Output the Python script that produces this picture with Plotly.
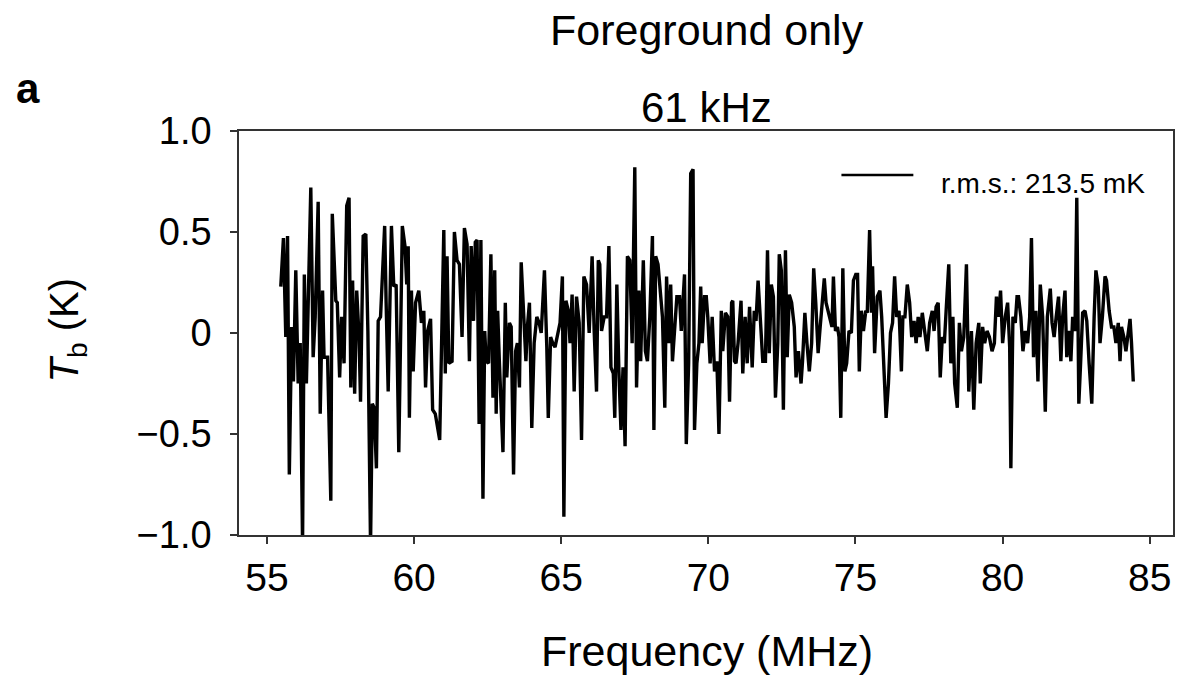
import plotly.graph_objects as go

# ---------------- data ----------------
freq_mhz = [
    55.47, 55.56, 55.64, 55.70, 55.76, 55.84, 55.90, 55.98, 56.06, 56.13, 56.21, 56.27, 56.34, 56.40,
    56.49, 56.57, 56.64, 56.74, 56.81, 56.89, 56.94, 57.06, 57.17, 57.22, 57.34, 57.39, 57.47, 57.54,
    57.62, 57.71, 57.79, 57.85, 57.91, 57.98, 58.05, 58.13, 58.18, 58.27, 58.36, 58.43, 58.52, 58.58,
    58.64, 58.72,
    58.78, 58.86, 59.00, 59.05, 59.12, 59.23, 59.31, 59.39, 59.48, 59.60, 59.69, 59.75, 59.80, 59.84,
    59.91, 59.97, 60.05, 60.16, 60.25, 60.33, 60.39, 60.46, 60.56, 60.63, 60.72, 60.87, 61.01, 61.06,
    61.12, 61.18, 61.29, 61.37, 61.46, 61.54, 61.63, 61.71, 61.80, 61.88, 61.94, 62.02, 62.08, 62.14,
    62.21, 62.27, 62.34, 62.40,
    62.45, 62.53, 62.61, 62.68, 62.74, 62.79, 62.84, 62.90, 63.02, 63.10, 63.15, 63.24, 63.30, 63.38,
    63.45, 63.51, 63.58, 63.64, 63.72, 63.80, 63.85, 63.92, 64.00, 64.08, 64.17, 64.25, 64.32, 64.43,
    64.51, 64.56, 64.64, 64.71, 64.79, 64.87, 64.96, 65.04, 65.09, 65.16, 65.24, 65.30, 65.37, 65.44,
    65.52, 65.61, 65.69, 65.77, 65.86, 65.95,
    66.05, 66.12, 66.20, 66.26, 66.31, 66.37, 66.46, 66.54, 66.62, 66.69, 66.77, 66.82, 66.89, 66.96,
    67.03, 67.10, 67.17, 67.25, 67.33, 67.41, 67.50, 67.56, 67.64, 67.70, 67.79, 67.86, 67.93, 68.01,
    68.10, 68.15, 68.21, 68.29, 68.38, 68.44, 68.52, 68.58, 68.65, 68.72, 68.78, 68.85, 68.93, 69.02,
    69.08, 69.19, 69.25, 69.33, 69.40, 69.48,
    69.53, 69.61, 69.68, 69.74, 69.79, 69.87, 69.93, 69.98, 70.06, 70.13, 70.21, 70.29, 70.36, 70.44,
    70.49, 70.58, 70.66, 70.72, 70.79, 70.83, 70.89, 70.94, 71.01, 71.11, 71.17, 71.25, 71.32, 71.40,
    71.49, 71.56, 71.62, 71.69, 71.76, 71.85, 71.94, 72.01, 72.07, 72.14, 72.21, 72.28, 72.36, 72.41,
    72.48, 72.55, 72.62, 72.68, 72.75, 72.83, 72.92,
    72.98, 73.06, 73.15, 73.20, 73.28, 73.35, 73.43, 73.51, 73.58, 73.65, 73.73, 73.80, 73.87, 73.94,
    74.00, 74.07, 74.14, 74.20, 74.25, 74.32, 74.39, 74.44, 74.50, 74.57, 74.64, 74.70, 74.78, 74.86,
    74.93, 75.01, 75.07, 75.13, 75.20, 75.27, 75.35, 75.40, 75.48, 75.54, 75.58, 75.65, 75.74, 75.83,
    75.89, 75.97, 76.04, 76.12, 76.19, 76.26, 76.33, 76.40, 76.48, 76.56,
    76.61, 76.68, 76.76, 76.84, 76.91, 76.99, 77.06, 77.13, 77.19, 77.27, 77.36, 77.44, 77.52, 77.61,
    77.67, 77.74, 77.81, 77.88, 77.95, 78.02, 78.08, 78.17, 78.24, 78.31, 78.37, 78.46, 78.53, 78.60,
    78.68, 78.77, 78.85, 78.94, 79.02, 79.10, 79.19, 79.24, 79.32, 79.39, 79.47, 79.55, 79.64, 79.72,
    79.79, 79.86, 79.93, 80.00, 80.09,
    80.17, 80.24, 80.28, 80.35, 80.43, 80.49, 80.54, 80.62, 80.69, 80.77, 80.85, 80.92, 80.98, 81.05,
    81.13, 81.20, 81.28, 81.36, 81.45, 81.52, 81.62, 81.68, 81.75, 81.82, 81.90, 81.98, 82.04, 82.12,
    82.18, 82.25, 82.32, 82.38, 82.46, 82.52, 82.59, 82.65, 82.72, 82.80, 82.86, 82.94, 83.03, 83.11,
    83.17, 83.25, 83.31, 83.39, 83.48, 83.53, 83.62, 83.70, 83.78, 83.85, 83.93, 83.99, 84.04, 84.12,
    84.19, 84.25, 84.33, 84.38, 84.44,
]

tb_k = [
    0.23, 0.47, -0.02, 0.48, -0.70, 0.03, -0.24, 0.31, -0.25, -0.05, -1.05, 0.29, -0.25, 0.08,
    0.72, -0.12, 0.08, 0.65, -0.40, 0.21, -0.12, -0.12, -0.83, 0.59, 0.16, 0.15, -0.22, 0.08,
    -0.15, 0.63, 0.67, -0.27, 0.26, -0.30, 0.21, -0.02, -0.34, 0.48, 0.49, 0.01, -1.05, -0.35,
    -0.37, -0.67,
    0.06, 0.08, 0.53, 0.15, -0.29, 0.53, 0.23, 0.24, -0.59, 0.53, 0.43, 0.24, 0.43, -0.42,
    0.21, -0.19, 0.15, 0.21, 0.05, 0.11, -0.27, 0.01, 0.07, -0.38, -0.40, -0.53, 0.51, -0.20,
    0.38, -0.15, -0.14, 0.50, 0.36, 0.34, -0.02, 0.52, 0.44, -0.14, 0.43, 0.06, 0.45, 0.46,
    -0.45, 0.46, -0.82, 0.01,
    -0.14, -0.15, 0.39, -0.32, 0.31, -0.40, 0.11, -0.15, -0.59, 0.15, -0.22, 0.05, 0.03, -0.70,
    -0.09, -0.05, -0.27, 0.35, 0.08, -0.14, 0.03, 0.15, -0.47, -0.05, 0.08, 0.05, 0.00, 0.31,
    -0.07, -0.42, -0.02, -0.05, -0.07, -0.02, 0.05, 0.28, -0.91, 0.16, 0.11, -0.05, 0.19, -0.29,
    0.18, 0.05, -0.53, 0.28, 0.24, 0.00,
    0.38, 0.01, -0.29, 0.36, 0.34, 0.01, 0.08, 0.08, 0.43, -0.17, -0.20, -0.42, 0.24, -0.19,
    -0.48, -0.17, -0.56, 0.38, 0.36, -0.05, 0.82, -0.27, 0.21, -0.14, 0.36, -0.09, -0.14, 0.08,
    0.48, -0.48, 0.38, 0.34, 0.16, 0.08, -0.37, 0.28, -0.05, 0.24, -0.14, 0.01, 0.18, 0.18,
    0.01, 0.29, -0.55, -0.15, 0.79, 0.81,
    -0.48, -0.15, -0.05, 0.23, -0.05, 0.18, 0.18, 0.08, -0.15, 0.08, -0.19, -0.14, -0.50, 0.11,
    -0.09, 0.10, 0.08, -0.34, 0.15, 0.16, -0.14, -0.15, -0.05, 0.16, -0.20, 0.08, -0.15, 0.13,
    -0.17, 0.11, 0.06, 0.26, 0.08, -0.14, -0.14, 0.41, -0.10, 0.24, 0.18, -0.32, -0.05, 0.39,
    0.31, -0.38, 0.41, -0.12, 0.19, 0.15, 0.03,
    -0.22, -0.09, -0.25, -0.14, 0.10, -0.05, -0.19, -0.05, 0.32, 0.15, -0.10, 0.03, 0.16, 0.27,
    0.15, 0.11, 0.08, 0.03, 0.28, 0.01, 0.03, -0.02, -0.42, 0.32, -0.19, -0.15, 0.01, 0.00,
    0.26, 0.29, 0.29, -0.19, 0.11, 0.01, 0.11, 0.10, 0.51, 0.10, 0.33, -0.10, 0.18, 0.21,
    0.08, -0.25, -0.42, -0.25, 0.00, 0.05, 0.28, 0.08, 0.11, -0.19,
    0.08, 0.08, 0.24, 0.15, -0.02, 0.06, -0.05, 0.08, -0.02, 0.10, 0.01, -0.09, 0.05, 0.11,
    0.01, 0.13, 0.15, -0.22, -0.02, -0.05, 0.11, 0.34, -0.15, 0.08, -0.25, -0.37, 0.05, -0.09,
    -0.02, 0.34, -0.29, 0.01, -0.38, -0.05, 0.05, -0.25, 0.03, -0.05, 0.01, -0.02, -0.09, -0.05,
    0.18, 0.08, 0.21, -0.05, 0.08,
    0.15, -0.07, -0.67, 0.08, 0.05, 0.18, 0.18, 0.08, -0.09, 0.01, -0.05, 0.08, 0.47, -0.12,
    0.11, -0.24, 0.24, 0.08, -0.39, 0.08, 0.22, 0.05, -0.02, 0.08, 0.18, -0.14, 0.08, 0.21,
    -0.12, 0.01, -0.14, 0.08, 0.01, 0.67, -0.35, -0.15, 0.10, 0.11, 0.06, -0.15, -0.35, 0.08,
    0.31, 0.23, -0.05, 0.08, 0.28, 0.26, 0.11, 0.03, 0.03, -0.05, 0.05, -0.14, 0.03, -0.02,
    -0.09, -0.02, 0.07, -0.05, -0.24,
]

x_tick_vals = [55, 60, 65, 70, 75, 80, 85]
y_tick_vals = [-1.0, -0.5, 0, 0.5, 1.0]
y_tick_text = ["\u22121.0", "\u22120.5", "0", "0.5", "1.0"]

title_text = "Foreground only"
subtitle_text = "61 kHz"
panel_label = "a"
legend_text = "r.m.s.: 213.5 mK"
x_title = "Frequency (MHz)"
y_title = "<i>T</i><sub>b</sub> (K)"

FONT = "Liberation Sans, Arial, Helvetica, sans-serif"
AXC = "#333333"

fig = go.Figure()
fig.add_trace(go.Scatter(
    x=freq_mhz, y=tb_k, mode="lines",
    line=dict(color="black", width=3.4),
    name=legend_text, showlegend=False,
))

fig.update_layout(
    width=1179, height=683,
    margin=dict(l=239, r=4, t=131, b=148, pad=0),
    paper_bgcolor="white", plot_bgcolor="white",
    font=dict(family=FONT, color="black", size=38),
    showlegend=False,
    xaxis=dict(
        range=[54.05, 85.79], tickvals=x_tick_vals,
        ticks="outside", ticklen=7, tickwidth=1.5, tickcolor=AXC,
        showline=True, linecolor=AXC, linewidth=1.5, mirror=True,
        showgrid=False, zeroline=False,
        tickfont=dict(size=39, family=FONT, color="black"),
    ),
    yaxis=dict(
        range=[-1, 1], tickvals=y_tick_vals, ticktext=y_tick_text,
        ticks="outside", ticklen=7, tickwidth=1.5, tickcolor=AXC,
        ticklabelstandoff=11,
        showline=True, linecolor=AXC, linewidth=1.5, mirror=True,
        showgrid=False, zeroline=False,
        tickfont=dict(size=38, family=FONT, color="black"),
    ),
)

annotations = [
    dict(text=title_text, x=0.501, y=1.250, font=dict(size=43)),
    dict(text=subtitle_text, x=0.501, y=1.057, font=dict(size=42)),
    dict(text="<b>" + panel_label + "</b>", x=-0.2254, y=1.106, font=dict(size=42)),
    dict(text=x_title, x=0.501, y=-0.288, font=dict(size=43)),
    dict(text=y_title, x=-0.1838, y=0.507, textangle=-90, font=dict(size=40)),
    dict(text=legend_text, x=0.749, y=0.871, xanchor="left", font=dict(size=28)),
]
for a in annotations:
    a.setdefault("xanchor", "center")
    fig.add_annotation(xref="paper", yref="paper", showarrow=False,
                       yanchor="middle", **a)

# legend key line (drawn next to the legend text)
fig.add_shape(type="line", xref="paper", yref="paper",
              x0=0.645, x1=0.722, y0=0.891, y1=0.891,
              line=dict(color="black", width=2.6))

fig.write_html("out.html")
